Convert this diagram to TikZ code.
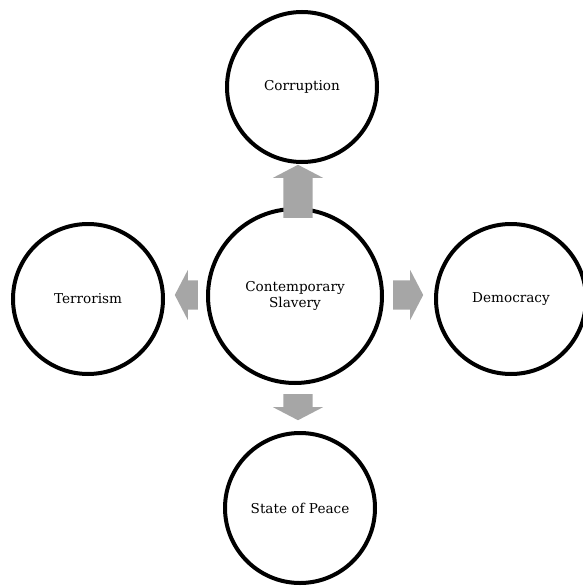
\documentclass[tikz,border=0pt]{standalone}
\usepackage{fontspec}
\setmainfont{DejaVu Serif}
\usetikzlibrary{calc,shapes.arrows}
\definecolor{arrgray}{HTML}{A6A6A6}
\tikzset{
  topic/.style={circle,draw,line width=4pt,minimum size=150pt,inner sep=0pt,align=center,font=\fontsize{13.6}{16.5}\selectfont},
  blockarr/.style={single arrow,fill=arrgray,draw=none,anchor=tail,inner xsep=0pt,inner ysep=14.5pt,single arrow head extend=10.5pt,single arrow tip angle=125}
}
\begin{document}
\begin{tikzpicture}[x=1pt,y=1pt]
\useasboundingbox (0,0) rectangle (583,-586);
\node[topic,minimum size=174pt] (slav) at (295,-296) {Contemporary\\Slavery};
\node[topic] (corr) at (302,-87) {Corruption};
\node[topic] (terr) at (88,-299) {Terrorism};
\node[topic] (demo) at (511,-299) {Democracy};
\node[topic] (peace) at (300,-508) {State of Peace};
% block arrows out of the centre
\node[blockarr,rotate=90,minimum height=53pt] (to-corr) at ([xshift=3pt,yshift=-11pt]slav.north) {};
\node[blockarr,rotate=180,minimum height=23pt] (to-terr) at ([xshift=-8pt,yshift=1pt]slav.west) {};
\node[blockarr,minimum height=30pt] (to-demo) at ([xshift=9pt,yshift=1pt]slav.east) {};
\node[blockarr,rotate=-90,minimum height=26pt] (to-peace) at ([xshift=3pt,yshift=-9pt]slav.south) {};
\end{tikzpicture}
\end{document}
